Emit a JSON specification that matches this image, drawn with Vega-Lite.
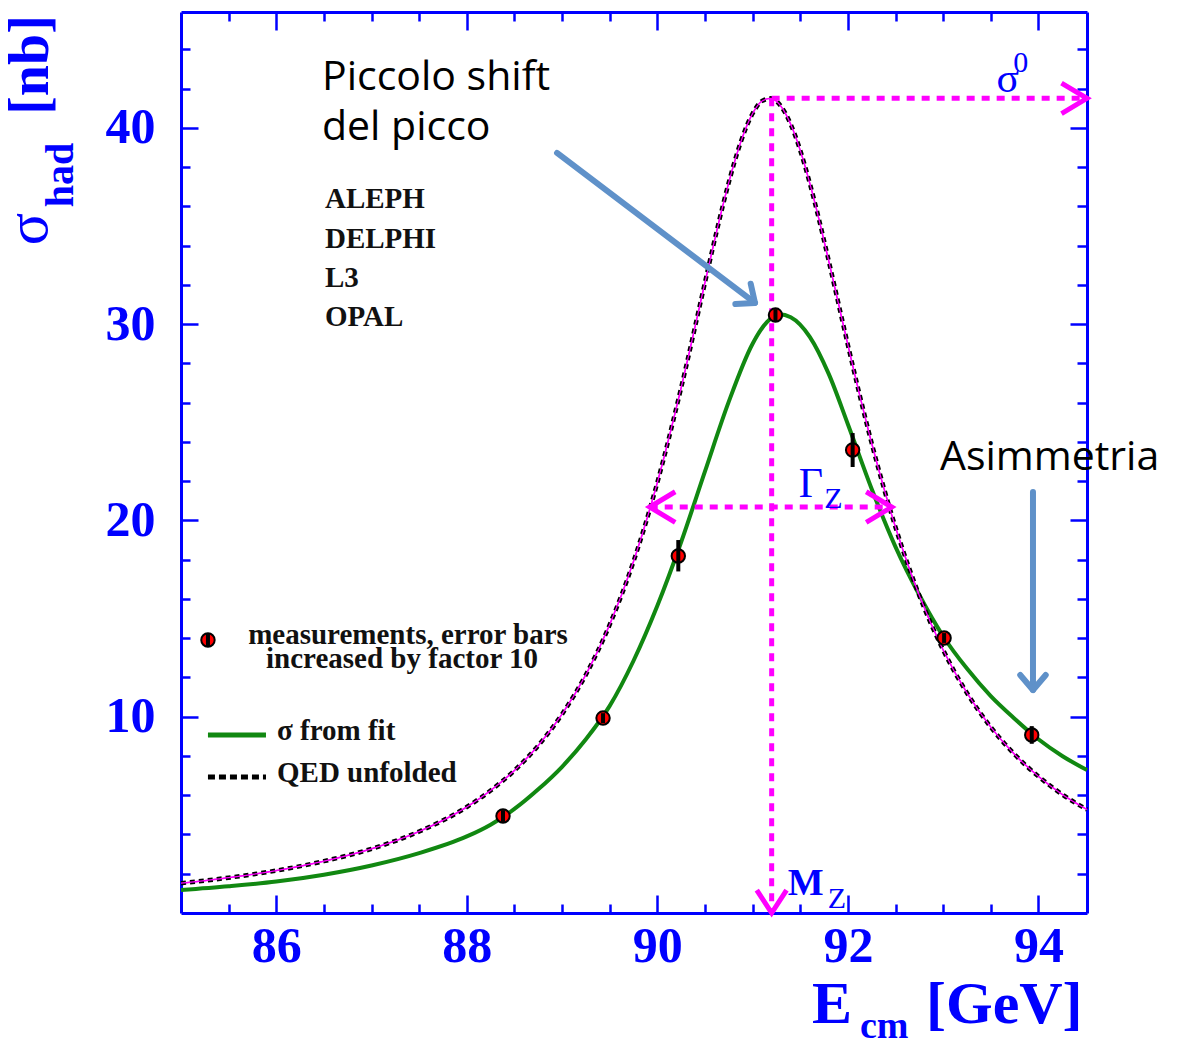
{
"$schema": "https://vega.github.io/schema/vega-lite/v6.json",
"width": 906, "height": 901,
"autosize": {"type": "none"},
"padding": {"left": 181, "top": 12, "right": 94, "bottom": 131},
"background": "white",
"config": {"view": {"stroke": null}},
"datasets": {
"qed": [
{"E":85.0,"s":1.52},{"E":85.5,"s":1.80},{"E":86.0,"s":2.16},{"E":86.5,"s":2.64},{"E":87.0,"s":3.27},{"E":87.5,"s":4.15},{"E":88.0,"s":5.40},{"E":88.25,"s":6.24},{"E":88.5,"s":7.26},{"E":88.75,"s":8.53},{"E":89.0,"s":10.13},{"E":89.25,"s":12.14},{"E":89.5,"s":14.69},{"E":89.75,"s":17.91},{"E":90.0,"s":21.93},{"E":90.25,"s":26.76},{"E":90.5,"s":32.12},{"E":90.625,"s":34.78},{"E":90.75,"s":37.22},{"E":90.875,"s":39.27},{"E":91.0,"s":40.73},{"E":91.1,"s":41.37},{"E":91.19,"s":41.5},{"E":91.3,"s":41.08},{"E":91.4,"s":40.18},{"E":91.5,"s":38.85},{"E":91.6,"s":37.18},{"E":91.7,"s":35.27},{"E":91.8,"s":33.20},{"E":91.9,"s":31.07},{"E":92.0,"s":28.94},{"E":92.25,"s":23.93},{"E":92.5,"s":19.65},{"E":92.75,"s":16.17},{"E":93.0,"s":13.40},{"E":93.25,"s":11.21},{"E":93.5,"s":9.47},{"E":93.75,"s":8.08},{"E":94.0,"s":6.96},{"E":94.25,"s":6.04},{"E":94.51,"s":5.27}
],
"fit": [
{"E":85.0,"s":1.17},{"E":85.5,"s":1.36},{"E":86.0,"s":1.60},{"E":86.5,"s":1.95},{"E":87.0,"s":2.42},{"E":87.5,"s":3.05},{"E":88.0,"s":3.90},{"E":88.25,"s":4.50},{"E":88.5,"s":5.30},{"E":88.75,"s":6.30},{"E":89.0,"s":7.45},{"E":89.25,"s":8.85},{"E":89.5,"s":10.55},{"E":89.75,"s":12.85},{"E":90.0,"s":15.65},{"E":90.25,"s":18.9},{"E":90.5,"s":22.5},{"E":90.75,"s":26.05},{"E":91.0,"s":29.0},{"E":91.15,"s":30.1},{"E":91.28,"s":30.5},{"E":91.4,"s":30.35},{"E":91.6,"s":29.35},{"E":91.8,"s":27.45},{"E":92.0,"s":24.9},{"E":92.25,"s":21.6},{"E":92.5,"s":18.65},{"E":92.75,"s":16.2},{"E":93.0,"s":14.1},{"E":93.25,"s":12.45},{"E":93.5,"s":11.05},{"E":93.75,"s":9.9},{"E":94.0,"s":8.85},{"E":94.25,"s":8.0},{"E":94.51,"s":7.28}
],
"meas": [
{"E":88.38,"s":4.94,"lo":4.64,"hi":5.24},
{"E":89.43,"s":9.93,"lo":9.68,"hi":10.18},
{"E":90.22,"s":18.19,"lo":17.4,"hi":19.0},
{"E":91.24,"s":30.46,"lo":30.16,"hi":30.76},
{"E":92.05,"s":23.59,"lo":22.72,"hi":24.45},
{"E":93.01,"s":14.01,"lo":13.76,"hi":14.26},
{"E":93.93,"s":9.07,"lo":8.62,"hi":9.52},
{"E":85.283,"s":13.91,"lo":13.56,"hi":14.26}
],
"mag": [
{"E":91.2,"E2":91.2,"s":41.5,"s2":0},
{"E":91.2,"E2":94.51,"s":41.5,"s2":41.5},
{"E":89.92,"E2":92.46,"s":20.68,"s2":20.68}
],
"chevR": [{"E":94.51,"s":41.5},{"E":92.46,"s":20.68}],
"chevL": [{"E":89.92,"s":20.68}],
"chevD": [{"E":91.2,"s":0}],
"arrows": [
{"E":88.947,"s":38.72,"E2":91.025,"s2":31.08},
{"E":93.943,"s":21.45,"E2":93.943,"s2":11.36}
],
"head1": [{"E":91.025,"s":31.08}],
"head2": [{"E":93.943,"s":11.36}],
"legGreen": [{"E":85.283,"E2":85.892,"s":9.07}],
"legBlack": [{"E":85.283,"E2":85.892,"s":6.93}],
"det": [
{"E":86.511,"s":35.92,"t":"ALEPH"},
{"E":86.511,"s":33.88,"t":"DELPHI"},
{"E":86.511,"s":31.89,"t":"L3"},
{"E":86.511,"s":29.90,"t":"OPAL"}
],
"legC": [
{"E":87.383,"s":13.70,"t":"measurements, error bars"},
{"E":87.320,"s":12.48,"t":"increased by factor 10"}
],
"legL": [
{"E":86.008,"s":8.81,"t":"σ from fit"},
{"E":86.008,"s":6.67,"t":"QED unfolded"}
],
"ann": [
{"E":86.48,"s":41.93,"t":"Piccolo shift"},
{"E":86.48,"s":39.38,"t":"del picco"},
{"E":92.967,"s":22.57,"t":"Asimmetria"}
],
"symBig": [
{"E":93.678,"s":41.82,"t":"σ"},
{"E":91.611,"s":21.19,"t":"Γ"}
],
"symM": [{"E":91.558,"s":0.917,"t":"M"}],
"symSmall": [
{"E":93.814,"s":42.84,"t":"0"},
{"E":91.847,"s":20.63,"t":"Z"},
{"E":91.884,"s":0.255,"t":"Z"}
],
"yTitleSigma": [{"E":83.594,"s":34.84,"t":"σ"}],
"yTitleBig": [{"E":83.604,"s":43.20,"t":"[nb]"}],
"yTitleSmall": [{"E":83.866,"s":37.60,"t":"had"}],
"xTitleBig": [
{"E":91.623,"s":-5.60,"t":"E"},
{"E":92.820,"s":-5.60,"t":"[GeV]"}
],
"xTitleSmall": [{"E":92.127,"s":-6.37,"t":"cm"}]
},
"resolve": {"axis": {"x": "independent", "y": "independent"}},
"layer": [
{"data": {"name": "qed"}, "mark": {"type": "point", "opacity": 0},
 "encoding": {
  "x": {"field": "E", "type": "quantitative", "scale": {"domain": [85, 94.51], "nice": false, "zero": false},
   "axis": {"orient": "bottom", "values": [86, 88, 90, 92, 94], "ticks": false, "tickSize": 0, "labels": true, "labelFont": "Liberation Serif", "labelFontWeight": "bold", "labelFontSize": 50, "labelColor": "#0000ff", "labelPadding": 8, "labelFlush": false, "labelOverlap": false, "domain": true, "domainColor": "#0000ff", "domainWidth": 3, "grid": false, "title": null}},
  "y": {"field": "s", "type": "quantitative", "scale": {"domain": [0, 45.9], "nice": false, "zero": false},
   "axis": {"orient": "left", "values": [10, 20, 30, 40], "ticks": false, "tickSize": 0, "labels": true, "labelFont": "Liberation Serif", "labelFontWeight": "bold", "labelFontSize": 50, "labelColor": "#0000ff", "labelPadding": 26, "labelFlush": false, "labelOverlap": false, "domain": true, "domainColor": "#0000ff", "domainWidth": 3, "grid": false, "title": null}}
 }},
{"data": {"name": "qed"}, "mark": {"type": "point", "opacity": 0},
 "encoding": {
  "x": {"field": "E", "type": "quantitative", "scale": {"domain": [85, 94.51], "nice": false, "zero": false},
   "axis": {"orient": "bottom", "values": [86, 88, 90, 92, 94], "ticks": true, "tickSize": -18, "tickWidth": 2.5, "tickColor": "#0000ff", "labels": false, "domain": false, "grid": false, "title": null}},
  "y": {"field": "s", "type": "quantitative", "scale": {"domain": [0, 45.9], "nice": false, "zero": false},
   "axis": {"orient": "left", "values": [10, 20, 30, 40], "ticks": true, "tickSize": -17, "tickWidth": 2.5, "tickColor": "#0000ff", "labels": false, "domain": false, "grid": false, "title": null}}
 }},
{"data": {"name": "qed"}, "mark": {"type": "point", "opacity": 0},
 "encoding": {
  "x": {"field": "E", "type": "quantitative", "scale": {"domain": [85, 94.51], "nice": false, "zero": false},
   "axis": {"orient": "bottom", "values": [85.5, 86.5, 87, 87.5, 88.5, 89, 89.5, 90.5, 91, 91.5, 92.5, 93, 93.5], "ticks": true, "tickSize": -9, "tickWidth": 2.5, "tickColor": "#0000ff", "labels": false, "domain": false, "grid": false, "title": null}},
  "y": {"field": "s", "type": "quantitative", "scale": {"domain": [0, 45.9], "nice": false, "zero": false},
   "axis": {"orient": "left", "values": [2, 4, 6, 8, 12, 14, 16, 18, 22, 24, 26, 28, 32, 34, 36, 38, 42, 44], "ticks": true, "tickSize": -9, "tickWidth": 2.5, "tickColor": "#0000ff", "labels": false, "domain": false, "grid": false, "title": null}}
 }},
{"data": {"name": "qed"}, "mark": {"type": "point", "opacity": 0},
 "encoding": {
  "x": {"field": "E", "type": "quantitative", "scale": {"domain": [85, 94.51], "nice": false, "zero": false},
   "axis": {"orient": "top", "values": [86, 88, 90, 92, 94], "ticks": true, "tickSize": -18, "tickWidth": 2.5, "tickColor": "#0000ff", "labels": false, "domain": true, "domainColor": "#0000ff", "domainWidth": 3, "grid": false, "title": null}},
  "y": {"field": "s", "type": "quantitative", "scale": {"domain": [0, 45.9], "nice": false, "zero": false},
   "axis": {"orient": "right", "values": [10, 20, 30, 40], "ticks": true, "tickSize": -17, "tickWidth": 2.5, "tickColor": "#0000ff", "labels": false, "domain": true, "domainColor": "#0000ff", "domainWidth": 3, "grid": false, "title": null}}
 }},
{"data": {"name": "qed"}, "mark": {"type": "point", "opacity": 0},
 "encoding": {
  "x": {"field": "E", "type": "quantitative", "scale": {"domain": [85, 94.51], "nice": false, "zero": false},
   "axis": {"orient": "top", "values": [85.5, 86.5, 87, 87.5, 88.5, 89, 89.5, 90.5, 91, 91.5, 92.5, 93, 93.5], "ticks": true, "tickSize": -9, "tickWidth": 2.5, "tickColor": "#0000ff", "labels": false, "domain": false, "grid": false, "title": null}},
  "y": {"field": "s", "type": "quantitative", "scale": {"domain": [0, 45.9], "nice": false, "zero": false},
   "axis": {"orient": "right", "values": [2, 4, 6, 8, 12, 14, 16, 18, 22, 24, 26, 28, 32, 34, 36, 38, 42, 44], "ticks": true, "tickSize": -10, "tickWidth": 2.5, "tickColor": "#0000ff", "labels": false, "domain": false, "grid": false, "title": null}}
 }},
{"data": {"name": "fit"}, "mark": {"type": "line", "interpolate": "monotone", "color": "#118811", "strokeWidth": 4},
 "encoding": {"x": {"field": "E", "type": "quantitative", "axis": null}, "y": {"field": "s", "type": "quantitative", "axis": null}}},
{"data": {"name": "qed"}, "mark": {"type": "line", "interpolate": "monotone", "color": "#ff00ff", "strokeWidth": 1.5},
 "encoding": {"x": {"field": "E", "type": "quantitative", "axis": null}, "y": {"field": "s", "type": "quantitative", "axis": null}}},
{"data": {"name": "qed"}, "mark": {"type": "line", "interpolate": "monotone", "color": "#000000", "strokeWidth": 4.5, "strokeDash": [5, 4]},
 "encoding": {"x": {"field": "E", "type": "quantitative", "axis": null}, "y": {"field": "s", "type": "quantitative", "axis": null}}},
{"data": {"name": "qed"}, "mark": {"type": "line", "interpolate": "monotone", "color": "#ff00ff", "strokeWidth": 1.2},
 "encoding": {"x": {"field": "E", "type": "quantitative", "axis": null}, "y": {"field": "s", "type": "quantitative", "axis": null}}},
{"data": {"name": "mag"}, "mark": {"type": "rule", "color": "#ff00ff", "strokeWidth": 5, "strokeDash": [8, 7]},
 "encoding": {"x": {"field": "E", "type": "quantitative", "axis": null}, "x2": {"field": "E2"}, "y": {"field": "s", "type": "quantitative", "axis": null}, "y2": {"field": "s2"}}},
{"data": {"name": "chevR"}, "mark": {"type": "point", "shape": "M-1,-0.6L0,0L-1,0.6", "size": 2600, "filled": false, "color": "#ff00ff", "strokeWidth": 5, "opacity": 1},
 "encoding": {"x": {"field": "E", "type": "quantitative", "axis": null}, "y": {"field": "s", "type": "quantitative", "axis": null}}},
{"data": {"name": "chevL"}, "mark": {"type": "point", "shape": "M1,-0.6L0,0L1,0.6", "size": 2600, "filled": false, "color": "#ff00ff", "strokeWidth": 5, "opacity": 1},
 "encoding": {"x": {"field": "E", "type": "quantitative", "axis": null}, "y": {"field": "s", "type": "quantitative", "axis": null}}},
{"data": {"name": "chevD"}, "mark": {"type": "point", "shape": "M-0.65,-1L0,0L0.65,-1", "size": 2100, "filled": false, "color": "#ff00ff", "strokeWidth": 5, "opacity": 1},
 "encoding": {"x": {"field": "E", "type": "quantitative", "axis": null}, "y": {"field": "s", "type": "quantitative", "axis": null}}},
{"data": {"name": "meas"}, "mark": {"type": "point", "shape": "circle", "size": 180, "filled": true, "fill": "#ff0000", "stroke": "#000000", "strokeWidth": 2, "opacity": 1},
 "encoding": {"x": {"field": "E", "type": "quantitative", "axis": null}, "y": {"field": "s", "type": "quantitative", "axis": null}}},
{"data": {"name": "meas"}, "mark": {"type": "rule", "color": "#000000", "strokeWidth": 4},
 "encoding": {"x": {"field": "E", "type": "quantitative", "axis": null}, "y": {"field": "lo", "type": "quantitative", "axis": null}, "y2": {"field": "hi"}}},
{"data": {"name": "legGreen"}, "mark": {"type": "rule", "color": "#118811", "strokeWidth": 5},
 "encoding": {"x": {"field": "E", "type": "quantitative", "axis": null}, "x2": {"field": "E2"}, "y": {"field": "s", "type": "quantitative", "axis": null}}},
{"data": {"name": "legBlack"}, "mark": {"type": "rule", "color": "#000000", "strokeWidth": 5, "strokeDash": [7, 4]},
 "encoding": {"x": {"field": "E", "type": "quantitative", "axis": null}, "x2": {"field": "E2"}, "y": {"field": "s", "type": "quantitative", "axis": null}}},
{"data": {"name": "arrows"}, "mark": {"type": "rule", "color": "#5f91c9", "strokeWidth": 6, "strokeCap": "round"},
 "encoding": {"x": {"field": "E", "type": "quantitative", "axis": null}, "x2": {"field": "E2"}, "y": {"field": "s", "type": "quantitative", "axis": null}, "y2": {"field": "s2"}}},
{"data": {"name": "head1"}, "mark": {"type": "point", "shape": "M-1,-0.85L0,0L-1,0.85", "size": 900, "angle": 37, "filled": false, "color": "#5f91c9", "strokeWidth": 6, "strokeCap": "round", "strokeJoin": "round", "opacity": 1},
 "encoding": {"x": {"field": "E", "type": "quantitative", "axis": null}, "y": {"field": "s", "type": "quantitative", "axis": null}}},
{"data": {"name": "head2"}, "mark": {"type": "point", "shape": "M-1,-0.85L0,0L-1,0.85", "size": 900, "angle": 90, "filled": false, "color": "#5f91c9", "strokeWidth": 6, "strokeCap": "round", "strokeJoin": "round", "opacity": 1},
 "encoding": {"x": {"field": "E", "type": "quantitative", "axis": null}, "y": {"field": "s", "type": "quantitative", "axis": null}}},
{"data": {"name": "det"}, "mark": {"type": "text", "align": "left", "baseline": "alphabetic", "font": "Liberation Serif", "fontWeight": "bold", "fontSize": 29, "color": "#111111"},
 "encoding": {"x": {"field": "E", "type": "quantitative", "axis": null}, "y": {"field": "s", "type": "quantitative", "axis": null}, "text": {"field": "t"}}},
{"data": {"name": "legC"}, "mark": {"type": "text", "align": "center", "baseline": "alphabetic", "font": "Liberation Serif", "fontWeight": "bold", "fontSize": 29, "color": "#111111"},
 "encoding": {"x": {"field": "E", "type": "quantitative", "axis": null}, "y": {"field": "s", "type": "quantitative", "axis": null}, "text": {"field": "t"}}},
{"data": {"name": "legL"}, "mark": {"type": "text", "align": "left", "baseline": "alphabetic", "font": "Liberation Serif", "fontWeight": "bold", "fontSize": 29, "color": "#111111"},
 "encoding": {"x": {"field": "E", "type": "quantitative", "axis": null}, "y": {"field": "s", "type": "quantitative", "axis": null}, "text": {"field": "t"}}},
{"data": {"name": "ann"}, "mark": {"type": "text", "align": "left", "baseline": "alphabetic", "font": "Open Sans", "fontSize": 41, "color": "#000000"},
 "encoding": {"x": {"field": "E", "type": "quantitative", "axis": null}, "y": {"field": "s", "type": "quantitative", "axis": null}, "text": {"field": "t"}}},
{"data": {"name": "symBig"}, "mark": {"type": "text", "align": "center", "baseline": "alphabetic", "font": "Liberation Serif", "fontSize": 42, "color": "#0000ff"},
 "encoding": {"x": {"field": "E", "type": "quantitative", "axis": null}, "y": {"field": "s", "type": "quantitative", "axis": null}, "text": {"field": "t"}}},
{"data": {"name": "symM"}, "mark": {"type": "text", "align": "center", "baseline": "alphabetic", "font": "Liberation Serif", "fontWeight": "bold", "fontSize": 38, "color": "#0000ff"},
 "encoding": {"x": {"field": "E", "type": "quantitative", "axis": null}, "y": {"field": "s", "type": "quantitative", "axis": null}, "text": {"field": "t"}}},
{"data": {"name": "symSmall"}, "mark": {"type": "text", "align": "center", "baseline": "alphabetic", "font": "Liberation Serif", "fontSize": 30, "color": "#0000ff"},
 "encoding": {"x": {"field": "E", "type": "quantitative", "axis": null}, "y": {"field": "s", "type": "quantitative", "axis": null}, "text": {"field": "t"}}},
{"data": {"name": "yTitleSigma"}, "mark": {"type": "text", "align": "center", "baseline": "alphabetic", "angle": 270, "font": "Liberation Serif", "fontSize": 60, "color": "#0000ff"},
 "encoding": {"x": {"field": "E", "type": "quantitative", "axis": null}, "y": {"field": "s", "type": "quantitative", "axis": null}, "text": {"field": "t"}}},
{"data": {"name": "yTitleBig"}, "mark": {"type": "text", "align": "center", "baseline": "alphabetic", "angle": 270, "font": "Liberation Serif", "fontWeight": "bold", "fontSize": 56, "color": "#0000ff"},
 "encoding": {"x": {"field": "E", "type": "quantitative", "axis": null}, "y": {"field": "s", "type": "quantitative", "axis": null}, "text": {"field": "t"}}},
{"data": {"name": "yTitleSmall"}, "mark": {"type": "text", "align": "center", "baseline": "alphabetic", "angle": 270, "font": "Liberation Serif", "fontWeight": "bold", "fontSize": 40, "color": "#0000ff"},
 "encoding": {"x": {"field": "E", "type": "quantitative", "axis": null}, "y": {"field": "s", "type": "quantitative", "axis": null}, "text": {"field": "t"}}},
{"data": {"name": "xTitleBig"}, "mark": {"type": "text", "align": "left", "baseline": "alphabetic", "font": "Liberation Serif", "fontWeight": "bold", "fontSize": 60, "color": "#0000ff"},
 "encoding": {"x": {"field": "E", "type": "quantitative", "axis": null}, "y": {"field": "s", "type": "quantitative", "axis": null}, "text": {"field": "t"}}},
{"data": {"name": "xTitleSmall"}, "mark": {"type": "text", "align": "left", "baseline": "alphabetic", "font": "Liberation Serif", "fontWeight": "bold", "fontSize": 38, "color": "#0000ff"},
 "encoding": {"x": {"field": "E", "type": "quantitative", "axis": null}, "y": {"field": "s", "type": "quantitative", "axis": null}, "text": {"field": "t"}}}
]
}
